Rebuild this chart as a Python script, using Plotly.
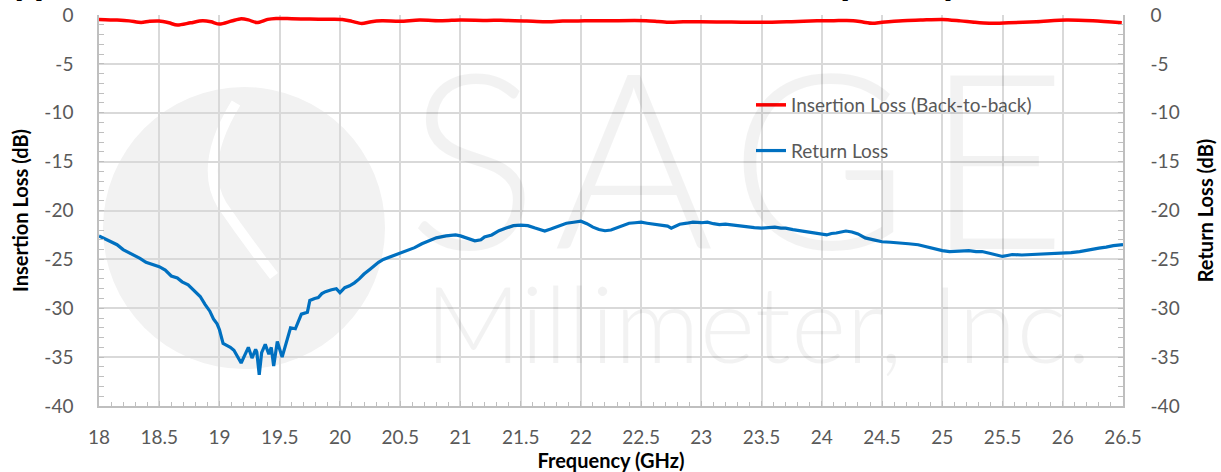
import plotly.graph_objects as go

# ---------------- data ----------------
freq_il = [18.0, 18.15, 18.25, 18.35, 18.42, 18.5, 18.58, 18.65, 18.76, 18.86, 18.93, 19.0,
           19.1, 19.18, 19.24, 19.31, 19.4, 19.47, 19.6, 19.75, 19.9, 20.02, 20.1, 20.18,
           20.26, 20.35, 20.5, 20.66, 20.85, 21.0, 21.2, 21.38, 21.55, 21.7, 21.85, 22.03,
           22.25, 22.54, 22.64, 22.74, 22.85, 22.99, 23.25, 23.51, 23.75, 23.96, 24.1, 24.26,
           24.34, 24.42, 24.5, 24.67, 24.82, 25.0, 25.15, 25.27, 25.39, 25.55, 25.78, 26.03,
           26.25, 26.49]
il_db = [-0.45, -0.52, -0.6, -0.76, -0.65, -0.62, -0.8, -1.03, -0.8, -0.6, -0.7, -0.93,
         -0.62, -0.38, -0.5, -0.78, -0.45, -0.35, -0.38, -0.42, -0.43, -0.45, -0.65, -0.86,
         -0.68, -0.6, -0.64, -0.52, -0.58, -0.52, -0.55, -0.55, -0.62, -0.7, -0.62, -0.6,
         -0.58, -0.58, -0.66, -0.75, -0.7, -0.7, -0.72, -0.75, -0.68, -0.6, -0.58, -0.58,
         -0.72, -0.85, -0.75, -0.58, -0.52, -0.45, -0.6, -0.75, -0.85, -0.8, -0.7, -0.52,
         -0.6, -0.8]

freq_rl = [18.0, 18.05, 18.1, 18.15, 18.2, 18.25, 18.29, 18.34, 18.39, 18.45, 18.5, 18.55,
           18.6, 18.65, 18.69, 18.74, 18.79, 18.84, 18.88, 18.92, 18.95, 18.98, 19.0, 19.03,
           19.06, 19.09, 19.12, 19.14, 19.18, 19.21, 19.24, 19.27, 19.3, 19.31, 19.33, 19.35,
           19.38, 19.41, 19.43, 19.45, 19.48, 19.52, 19.55, 19.57, 19.59, 19.63, 19.66, 19.68,
           19.73, 19.75, 19.79, 19.82, 19.85, 19.88, 19.93, 19.97, 20.0, 20.04, 20.08, 20.12,
           20.16, 20.2, 20.25, 20.29, 20.32, 20.36, 20.43, 20.5, 20.56, 20.62, 20.68, 20.73,
           20.8, 20.88, 20.96, 21.0, 21.07, 21.12, 21.17, 21.2, 21.26, 21.32, 21.38, 21.44,
           21.5, 21.56, 21.62, 21.66, 21.7, 21.75, 21.79, 21.84, 21.88, 21.94, 22.0, 22.05,
           22.1, 22.15, 22.2, 22.25, 22.29, 22.35, 22.4, 22.45, 22.5, 22.55, 22.6, 22.64,
           22.68, 22.72, 22.75, 22.79, 22.82, 22.88, 22.93, 23.0, 23.05, 23.1, 23.15, 23.2,
           23.26, 23.32, 23.37, 23.44, 23.5, 23.56, 23.61, 23.66, 23.7, 23.76, 23.82, 23.88,
           23.93, 24.0, 24.04, 24.08, 24.12, 24.2, 24.25, 24.3, 24.36, 24.43, 24.5, 24.57,
           24.64, 24.72, 24.8, 24.86, 24.92, 25.0, 25.06, 25.14, 25.22, 25.28, 25.33, 25.4,
           25.46, 25.5, 25.54, 25.58, 25.66, 25.75, 25.82, 25.9, 26.0, 26.07, 26.14, 26.22,
           26.3, 26.36, 26.42, 26.5]
rl_db = [-22.6, -22.9, -23.25, -23.5, -24.0, -24.3, -24.6, -24.9, -25.3, -25.5, -25.75, -26.1,
         -26.7, -26.9, -27.3, -27.6, -28.2, -28.8, -29.6, -30.3, -31.1, -31.6, -32.2, -33.6,
         -33.8, -34.0, -34.3, -34.7, -35.6, -34.8, -34.0, -35.1, -34.2, -34.5, -36.8, -34.55,
         -33.7, -34.7, -34.0, -35.9, -33.4, -35.0, -33.7, -32.8, -32.0, -32.1, -31.2, -30.6,
         -30.4, -29.2, -29.0, -28.9, -28.5, -28.3, -28.1, -28.0, -28.4, -27.9, -27.7, -27.4,
         -27.0, -26.5, -26.0, -25.55, -25.3, -25.0, -24.7, -24.4, -24.1, -23.8, -23.4, -23.15,
         -22.8, -22.6, -22.5, -22.6, -22.9, -23.1, -23.0, -22.7, -22.5, -22.07, -21.8, -21.55,
         -21.5, -21.55, -21.8, -21.95, -22.1, -21.9, -21.7, -21.5, -21.3, -21.2, -21.1, -21.35,
         -21.7, -21.95, -22.07, -22.0, -21.8, -21.55, -21.3, -21.25, -21.2, -21.3, -21.4, -21.45,
         -21.55, -21.6, -21.8, -21.55, -21.4, -21.3, -21.2, -21.25, -21.2, -21.35, -21.45, -21.4,
         -21.5, -21.6, -21.65, -21.75, -21.8, -21.75, -21.7, -21.8, -21.8, -21.95, -22.07, -22.2,
         -22.3, -22.45, -22.5, -22.35, -22.3, -22.1, -22.2, -22.4, -22.8, -23.0, -23.2, -23.25,
         -23.3, -23.4, -23.5, -23.7, -23.9, -24.1, -24.2, -24.15, -24.1, -24.2, -24.2, -24.4,
         -24.6, -24.7, -24.6, -24.5, -24.55, -24.5, -24.5, -24.45, -24.4, -24.3, -24.2, -24.0,
         -23.85, -23.75, -23.6, -23.5]

x_ticks = [18, 18.5, 19, 19.5, 20, 20.5, 21, 21.5, 22, 22.5, 23, 23.5, 24, 24.5, 25, 25.5, 26, 26.5]
y_ticks = [0, -5, -10, -15, -20, -25, -30, -35, -40]
y_tick_labels = ["0", "-5", "-10", "-15", "-20", "-25", "-30", "-35", "-40"]

series_names = ["Insertion Loss (Back-to-back)", "Return Loss"]
title_text = "Typical Insertion Loss and Return Loss vs. Frequency"
x_title = "Frequency (GHz)"
y_title = "Insertion Loss (dB)"
y2_title = "Return Loss (dB)"

# ---------------- figure ----------------
W, H = 1221, 472
M_L, M_R, M_T, M_B = 99, 98, 15, 66
PW, PH = W - M_L - M_R, H - M_T - M_B


def px(x):
    return (x - M_L) / PW


def py(y):
    return 1 - (y - M_T) / PH


FONT = "Lato, 'Open Sans', sans-serif"
TICK_COLOR = "#595959"
GRID = "#d9d9d9"
AXIS = "#bfbfbf"

fig = go.Figure()
fig.add_trace(go.Scatter(
    x=freq_il, y=il_db, name=series_names[0], mode="lines",
    line=dict(color="#ff0000", width=3.5, shape="spline", smoothing=0.8),
    legendgroup="il", yaxis="y"))
fig.add_trace(go.Scatter(
    x=freq_rl, y=rl_db, name=series_names[1], mode="lines",
    line=dict(color="#0070c0", width=3.2),
    legendgroup="rl", yaxis="y2"))

axis_common = dict(
    showline=True, linecolor=AXIS, linewidth=1.5,
    gridcolor=GRID, gridwidth=1.5,
    tickfont=dict(family=FONT, size=19, color=TICK_COLOR),
    ticks="inside", ticklen=5, tickcolor=AXIS, tickwidth=1,
    zeroline=False, automargin=False,
)

fig.update_layout(
    width=W, height=H,
    margin=dict(l=M_L, r=M_R, t=M_T, b=M_B, pad=0),
    paper_bgcolor="white", plot_bgcolor="white",
    font=dict(family=FONT, color=TICK_COLOR),
    xaxis=dict(
        range=[18, 26.5], tickvals=x_ticks, showgrid=True,
        minor=dict(ticks="inside", dtick=0.1, tick0=18, ticklen=4, tickcolor=AXIS, showgrid=False),
        ticklabelstandoff=13,
        title=dict(text=x_title, font=dict(family=FONT, size=20, color="black", weight="bold"), standoff=0),
        **axis_common),
    yaxis=dict(
        range=[-40, 0], tickvals=y_ticks, ticktext=y_tick_labels, showgrid=True,
        minor=dict(ticks="inside", dtick=1, tick0=0, ticklen=5, tickcolor=AXIS, showgrid=False),
        ticklabelstandoff=20,
        title=dict(text=y_title, font=dict(family=FONT, size=20, color="black", weight="bold"), standoff=10),
        **axis_common),
    yaxis2=dict(
        range=[-40, 0], tickvals=y_ticks, ticktext=y_tick_labels, showgrid=False,
        overlaying="y", side="right",
        minor=dict(ticks="inside", dtick=1, tick0=0, ticklen=5, tickcolor=AXIS, showgrid=False),
        ticklabelstandoff=22,
        title=dict(text=y2_title, font=dict(family=FONT, size=20, color="black", weight="bold"), standoff=20),
        **axis_common),
    legend=dict(
        x=px(751), y=py(86), xanchor="left", yanchor="top",
        bgcolor="rgba(0,0,0,0)", font=dict(family=FONT, size=19, color=TICK_COLOR),
        traceorder="grouped", tracegroupgap=18, itemwidth=30),
    showlegend=True,
)

# watermark logo (below grid)
fig.add_shape(type="circle", xref="paper", yref="paper",
              x0=px(103), x1=px(385), y0=py(369), y1=py(87),
              fillcolor="#f2f2f2", line=dict(width=0), layer="below")
fig.add_shape(type="path", xref="paper", yref="paper", layer="below",
              path=(f"M {px(236)},{py(103)} Q {px(198)},{py(165)} {px(222)},{py(205)} "
                    f"Q {px(246)},{py(240)} {px(274)},{py(276)}"),
              line=dict(color="white", width=10))

# watermark text
fig.add_annotation(text="S\u200aA\u200aG\u200aE", xref="paper", yref="paper", x=px(737), y=py(303),
                   xanchor="center", yanchor="bottom", showarrow=False,
                   font=dict(family=FONT, size=245, weight=300, color="rgba(0,0,0,0.05)"))
fig.add_annotation(text="Millimeter, Inc.", xref="paper", yref="paper", x=px(758), y=py(388),
                   xanchor="center", yanchor="bottom", showarrow=False,
                   font=dict(family=FONT, size=106, weight=300, color="rgba(0,0,0,0.05)"))

# chart title (cropped at top in the reference)
fig.add_annotation(text=title_text, xref="paper", yref="paper", x=px(965), y=py(5),
                   xanchor="right", yanchor="bottom", showarrow=False,
                   font=dict(family=FONT, size=42, color="black", weight="bold"))

fig.write_html("out.html", config={"displayModeBar": False},
               post_script="document.body.style.margin='0';")
